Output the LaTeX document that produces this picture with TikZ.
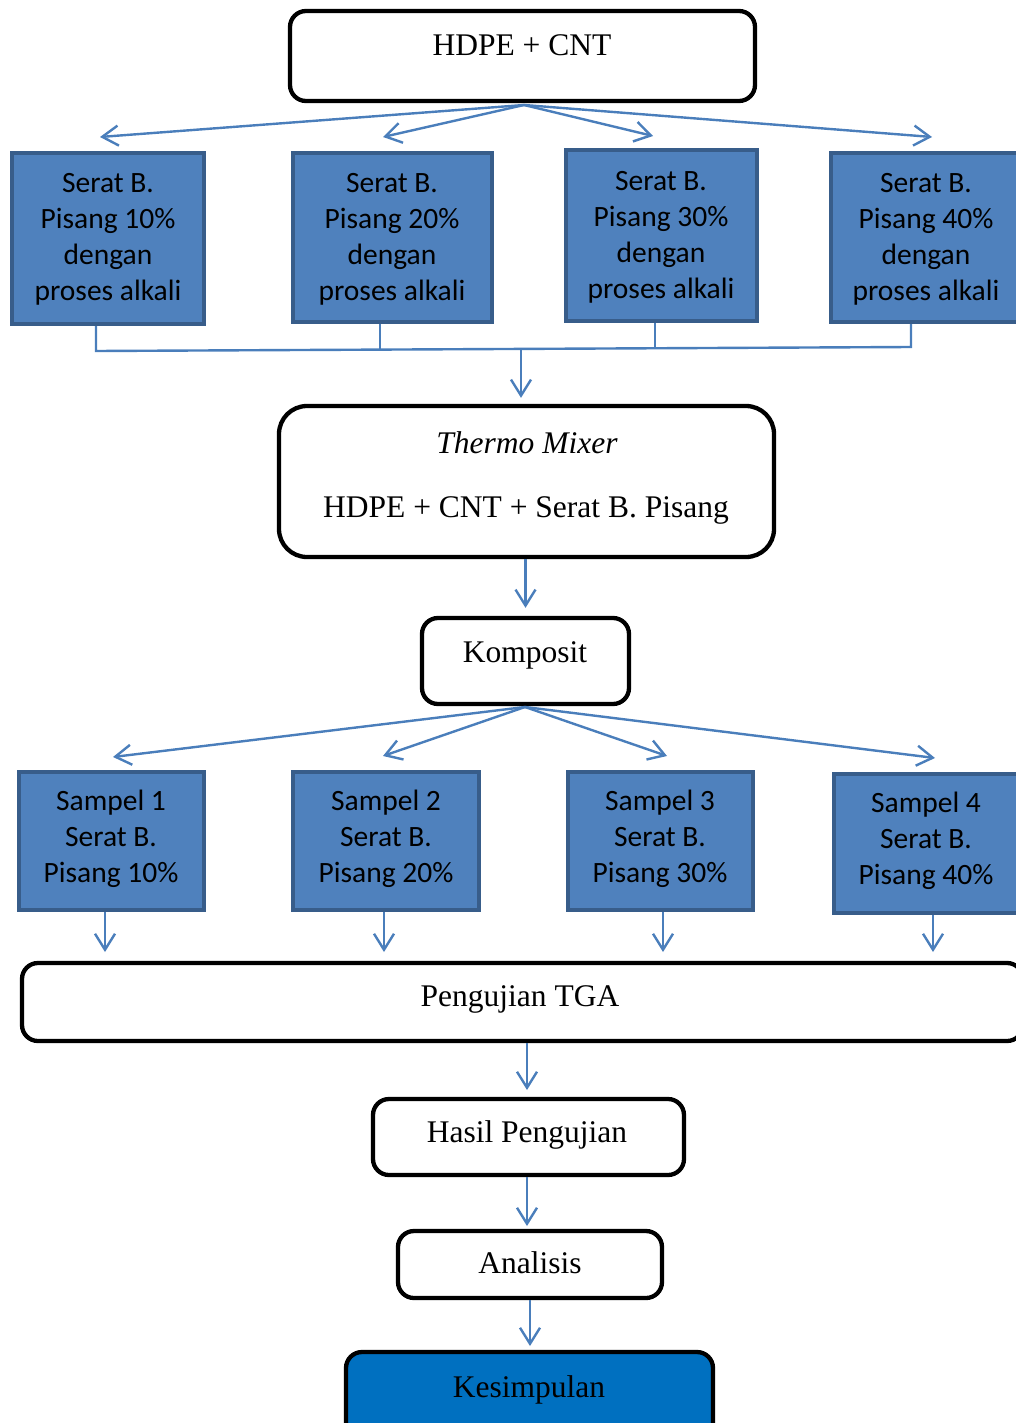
\documentclass[tikz,border=0pt]{standalone}
\usepackage{fontspec}
\setmainfont{Liberation Serif}
\newfontfamily\calfont{Carlito}
\usetikzlibrary{arrows.meta,calc}
\definecolor{fillblue}{HTML}{4F81BD}
\definecolor{bordblue}{HTML}{385D8A}
\definecolor{lineblue}{HTML}{4A7EBB}
\definecolor{kesblue}{HTML}{0070C0}
\begin{document}
\begin{tikzpicture}[x=1pt,y=-1pt,
  blk/.style={draw=black, line width=4.3pt, rounded corners=16pt, fill=white, inner sep=0pt},
  blu/.style={draw=bordblue, line width=4pt, fill=fillblue, inner sep=0pt},
  ln/.style={draw=lineblue, line width=2.4pt},
  arr/.style={draw=lineblue, line width=2.4pt, -{Straight Barb[length=16pt,width=20pt,line width=2.4pt]}},
  ser/.style={font=\fontsize{31.5}{38}\selectfont, inner sep=0pt, anchor=base},
  cal/.style={font=\calfont\fontsize{29.5}{36}\selectfont, align=center, inner sep=0pt, text=black}]
\useasboundingbox (0,0) rectangle (1016,1423);
\clip (0,0) rectangle (1016,1423);

% top box
\node[blk, minimum width=465pt, minimum height=90pt] (hdpe) at (522.5,56) {};
\node[ser] (thdpe) at (522,56) {HDPE + CNT};

% blue boxes row 1
\node[blu, minimum width=192pt, minimum height=171pt] (b1) at (108,238.5) {};
\node[blu, minimum width=199pt, minimum height=169pt] (b2) at (392.5,237.5) {};
\node[blu, minimum width=191pt, minimum height=171pt] (b3) at (661.5,235.5) {};
\node[blu, minimum width=190pt, minimum height=169pt] (b4) at (926,237.5) {};
\node[cal] (tb1) at (108,239) {Serat B.\\Pisang 10\%\\dengan\\proses alkali};
\node[cal] (tb2) at (392,239) {Serat B.\\Pisang 20\%\\dengan\\proses alkali};
\node[cal] (tb3) at (661,237) {Serat B.\\Pisang 30\%\\dengan\\proses alkali};
\node[cal] (tb4) at (926,239) {Serat B.\\Pisang 40\%\\dengan\\proses alkali};

% fan-out arrows
\coordinate (fo) at (524,105);
\coordinate (a1) at (100,137);
\coordinate (a2) at (383,137);
\coordinate (a3) at (653,136);
\coordinate (a4) at (932,137);
\draw[arr] (fo) -- (a1);
\draw[arr] (fo) -- (a2);
\draw[arr] (fo) -- (a3);
\draw[arr] (fo) -- (a4);

% bus
\coordinate (k1) at (96,351);
\coordinate (k2) at (380,350);
\coordinate (k3) at (655,348);
\coordinate (k4) at (911,347);
\draw[ln] (b1.south -| k1) -- (k1) -- (k4) -- (b4.south -| k4);
\draw[ln] (b2.south -| k2) -- (k2);
\draw[ln] (b3.south -| k3) -- (k3);

% thermo mixer
\node[blk, rounded corners=28pt, minimum width=495pt, minimum height=151pt] (tm) at (526.5,481.5) {};
\node[ser, font=\fontsize{31.5}{38}\selectfont\itshape] (ttm1) at (527,453) {Thermo Mixer};
\node[ser] (ttm2) at (526,517) {HDPE + CNT + Serat B. Pisang};
\coordinate (bm) at (521,349.5);
\draw[arr] (bm) -- ($(tm.north -| bm)+(0,-6)$);

% komposit
\node[blk, minimum width=207pt, minimum height=86pt] (komp) at (525.5,661) {};
\node[ser] (tkomp) at (525,662) {Komposit};
\draw[arr] (tm.south -| komp) -- ($(komp.north)+(0,-8)$);

% sample boxes
\node[blu, minimum width=185pt, minimum height=138pt] (s1) at (111.5,841) {};
\node[blu, minimum width=186pt, minimum height=138pt] (s2) at (386,841) {};
\node[blu, minimum width=185pt, minimum height=138pt] (s3) at (660.5,841) {};
\node[blu, minimum width=184pt, minimum height=139pt] (s4) at (926,843.5) {};
\node[cal] (ts1) at (111,839) {Sampel 1\\Serat B.\\Pisang 10\%};
\node[cal] (ts2) at (386,839) {Sampel 2\\Serat B.\\Pisang 20\%};
\node[cal] (ts3) at (660,839) {Sampel 3\\Serat B.\\Pisang 30\%};
\node[cal] (ts4) at (926,841) {Sampel 4\\Serat B.\\Pisang 40\%};

\coordinate (f2) at (525,707);
\coordinate (c1) at (113,757);
\coordinate (c2) at (383,756);
\coordinate (c3) at (667,756);
\coordinate (c4) at (935,758);
\draw[arr] (f2) -- (c1);
\draw[arr] (f2) -- (c2);
\draw[arr] (f2) -- (c3);
\draw[arr] (f2) -- (c4);

% TGA
\node[blk, minimum width=1001pt, minimum height=78pt] (tga) at (522.5,1002) {};
\node[ser] (ttga) at (520,1006) {Pengujian TGA};
\coordinate (d1) at (105,952);
\coordinate (d2) at (384,952);
\coordinate (d3) at (663,952);
\coordinate (d4) at (933,952);
\draw[arr] (s1.south -| d1) -- (d1);
\draw[arr] (s2.south -| d2) -- (d2);
\draw[arr] (s3.south -| d3) -- (d3);
\draw[arr] (s4.south -| d4) -- (d4);

% Hasil
\node[blk, minimum width=311pt, minimum height=76pt] (has) at (528.5,1137) {};
\node[ser] (thas) at (527,1142) {Hasil Pengujian};
\coordinate (e1) at (527,1090);
\draw[arr] (tga.south -| e1) -- (e1);

% Analisis
\node[blk, minimum width=264pt, minimum height=67pt] (ana) at (530,1264.5) {};
\node[ser] (tana) at (530,1273) {Analisis};
\coordinate (e2) at (527,1226);
\draw[arr] (has.south -| e2) -- (e2);

% Kesimpulan
\node[blk, fill=kesblue, minimum width=367pt, minimum height=86pt] (kes) at (529.5,1395) {};
\node[ser] (tkes) at (529,1397) {Kesimpulan};
\coordinate (e3) at (530,1346);
\draw[arr] (ana.south -| e3) -- (e3);
\end{tikzpicture}
\end{document}
